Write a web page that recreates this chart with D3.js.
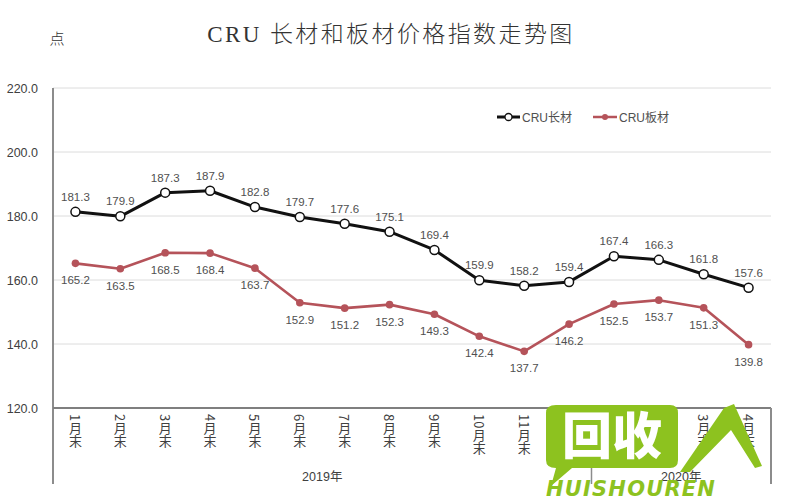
<!DOCTYPE html>
<html><head><meta charset="utf-8">
<script src="https://cdn.jsdelivr.net/npm/d3@7"></script>
<style>body{margin:0;background:#fff}svg{display:block}</style>
</head><body>
<svg id="c" width="800" height="500"></svg>
<script>
const months = ["1","2","3","4","5","6","7","8","9","10","11","12","1","2","3","4"];
const years = ["2019年","2020年"];
const yearCounts = [12, 4];
const longSteel = [181.3,179.9,187.3,187.9,182.8,179.7,177.6,175.1,169.4,159.9,158.2,159.4,167.4,166.3,161.8,157.6];
const flatSteel = [165.2,163.5,168.5,168.4,163.7,152.9,151.2,152.3,149.3,142.4,137.7,146.2,152.5,153.7,151.3,139.8];
const yTicks = [120,140,160,180,200,220];
const seriesNames = ["CRU长材","CRU板材"];

const svg = d3.select("#c");
const L = 53, R = 771, T = 88, B = 408, AB = 484;
const x = d3.scaleBand().domain(d3.range(months.length)).range([L, R]);
const y = d3.scaleLinear().domain([120,220]).range([B, T]);
const font = "'Liberation Sans', Arial, 'Noto Sans CJK SC', sans-serif";

// title
svg.append("text").attr("x", 391).attr("y", 42).attr("text-anchor","middle")
  .attr("font-family","'Liberation Serif','Noto Sans CJK SC',serif").attr("font-size",23).attr("font-weight",300)
  .attr("letter-spacing",2.4).attr("fill","#333").text("CRU 长材和板材价格指数走势图");
svg.append("text").attr("x", 57).attr("y", 44).attr("text-anchor","middle")
  .attr("font-family","'Noto Sans CJK SC',serif").attr("font-size",15).attr("font-weight",300).attr("fill","#333").text("点");

// grid
svg.append("g").selectAll("line").data(yTicks.slice(1)).join("line")
  .attr("x1", L).attr("x2", R).attr("y1", d=>y(d)).attr("y2", d=>y(d))
  .attr("stroke","#dcdcdc").attr("stroke-width",1);

// y axis labels
const ya = svg.append("g").attr("transform",`translate(${L-12},0)`)
  .call(d3.axisLeft(y).tickValues(yTicks).tickFormat(d3.format(".1f")).tickSize(0));
ya.select(".domain").remove();
ya.selectAll("text").attr("font-family",font).attr("font-size",12.5).attr("fill","#404040");

// axes frame
svg.append("line").attr("x1",L).attr("x2",L).attr("y1",T).attr("y2",AB).attr("stroke","#8c8c8c").attr("stroke-width",2);
svg.append("line").attr("x1",L).attr("x2",R).attr("y1",B).attr("y2",B).attr("stroke","#7f7f7f").attr("stroke-width",2);
svg.append("line").attr("x1",R).attr("x2",R).attr("y1",B).attr("y2",AB).attr("stroke","#8c8c8c").attr("stroke-width",2);
const splitX = x(yearCounts[0]);
svg.append("line").attr("x1",splitX).attr("x2",splitX).attr("y1",B).attr("y2",AB).attr("stroke","#8c8c8c").attr("stroke-width",1.5);

// category labels (vertical)
const cat = svg.append("g");
months.forEach((m,i)=>{
  cat.append("text").attr("x", x(i)+x.bandwidth()/2).attr("y", 414)
    .attr("writing-mode","tb").style("writing-mode","vertical-rl").style("text-orientation","mixed")
    .attr("font-family","'Noto Sans CJK SC', sans-serif").attr("font-size",13).attr("fill","#404040")
    .text(m + "月末");
});
// year labels
let start = 0;
years.forEach((yr,k)=>{
  const x0 = x(start), x1 = x(start + yearCounts[k]-1) + x.bandwidth();
  svg.append("text").attr("x",(x0+x1)/2).attr("y",481).attr("text-anchor","middle")
    .attr("font-family",font).attr("font-size",12.5).attr("fill","#404040").text(yr);
  start += yearCounts[k];
});

// lines
const line = d3.line().x((d,i)=>x(i)+x.bandwidth()/2).y(d=>y(d));
svg.append("path").datum(flatSteel).attr("d",line).attr("fill","none").attr("stroke","#b5535a").attr("stroke-width",2.6).attr("stroke-linejoin","round");
svg.append("path").datum(longSteel).attr("d",line).attr("fill","none").attr("stroke","#111").attr("stroke-width",3).attr("stroke-linejoin","round");

svg.append("g").selectAll("circle").data(flatSteel).join("circle")
  .attr("cx",(d,i)=>x(i)+x.bandwidth()/2).attr("cy",d=>y(d)).attr("r",3.8).attr("fill","#b5535a");
svg.append("g").selectAll("circle").data(longSteel).join("circle")
  .attr("cx",(d,i)=>x(i)+x.bandwidth()/2).attr("cy",d=>y(d)).attr("r",4.5).attr("fill","#fff").attr("stroke","#111").attr("stroke-width",1.5);

// data labels
svg.append("g").selectAll("text").data(longSteel).join("text")
  .attr("x",(d,i)=>x(i)+x.bandwidth()/2).attr("y",d=>y(d)-11).attr("text-anchor","middle")
  .attr("font-family",font).attr("font-size",11.5).attr("fill","#505050").text(d=>d.toFixed(1));
svg.append("g").selectAll("text").data(flatSteel).join("text")
  .attr("x",(d,i)=>x(i)+x.bandwidth()/2).attr("y",d=>y(d)+21).attr("text-anchor","middle")
  .attr("font-family",font).attr("font-size",11.5).attr("fill","#505050").text(d=>d.toFixed(1));

// legend
const lg = svg.append("g").attr("transform","translate(497,117)");
lg.append("line").attr("x1",0).attr("x2",23).attr("stroke","#111").attr("stroke-width",3);
lg.append("circle").attr("cx",11.5).attr("r",3.5).attr("fill","#fff").attr("stroke","#111").attr("stroke-width",1.3);
lg.append("text").attr("x",25).attr("y",4.5).attr("font-family",font).attr("font-size",12).attr("fill","#505050").text(seriesNames[0]);
lg.append("line").attr("x1",96).attr("x2",120).attr("stroke","#b5535a").attr("stroke-width",2.5);
lg.append("circle").attr("cx",108).attr("r",3).attr("fill","#b5535a");
lg.append("text").attr("x",122).attr("y",4.5).attr("font-family",font).attr("font-size",12).attr("fill","#505050").text(seriesNames[1]);

// watermark
const wm = svg.append("g");
const g1 = "#8dc21f";
wm.append("path").attr("d","M556,405 H670 Q678,405 678,413 V460 Q678,468 670,468 H572 L551,486 L556,468 Q546,468 546,460 V413 Q546,405 556,405 Z").attr("fill",g1);
wm.append("text").attr("x",612).attr("y",454).attr("text-anchor","middle").attr("font-family","'Noto Sans CJK SC'")
  .attr("font-weight",900).attr("font-size",50).attr("fill","#fff").text("回收");
wm.append("path").attr("d","M680,472 L724,408 L734,404 L762,466 L755,468 L731,430 L690,472 Z").attr("fill",g1);
wm.append("text").attr("x",546).attr("y",496).attr("font-family","'DejaVu Sans'").attr("font-style","italic")
  .attr("font-weight","bold").attr("font-size",21).attr("letter-spacing",1.2).attr("fill",g1).text("HUISHOUREN");
</script>
</body></html>
